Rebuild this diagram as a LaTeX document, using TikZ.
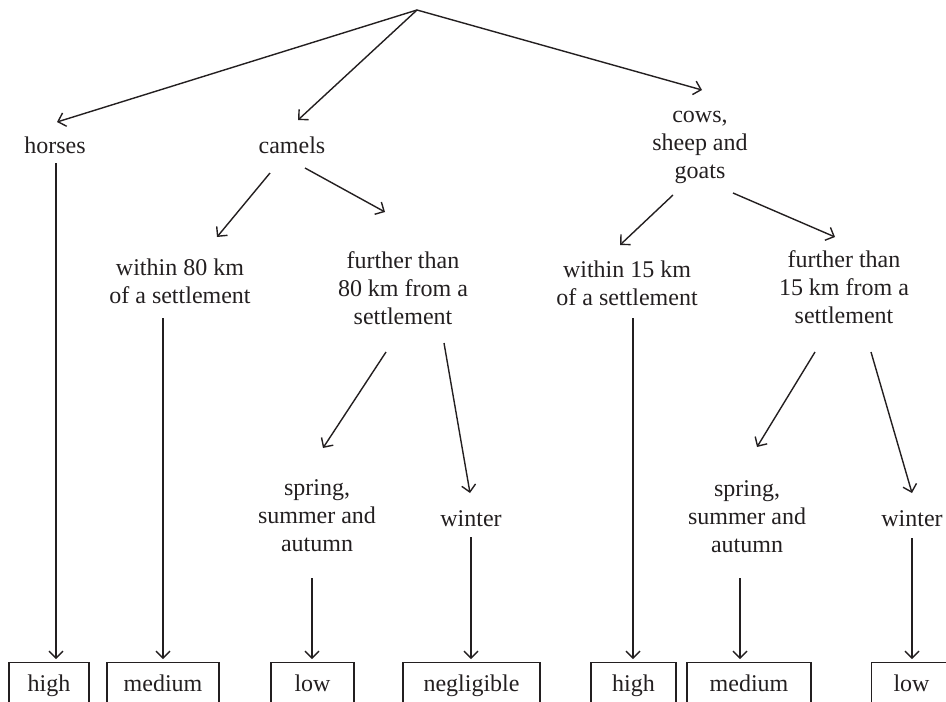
\documentclass[tikz,border=0pt]{standalone}
\usepackage{fontspec}
\setmainfont{Liberation Serif}
\usetikzlibrary{arrows.meta,calc}
\definecolor{ink}{RGB}{35,31,32}
\newcommand\mlines[1]{\vtop{\halign{\hfil##\hfil\cr#1\crcr}}}
\begin{document}
\begin{tikzpicture}[x=1pt,y=-1pt,
  lbl/.style={anchor=base,inner sep=0pt,text=ink,font=\fontsize{24}{28}\selectfont},
  valbox/.style={draw=ink,line width=1.1pt,anchor=north,inner sep=0pt,minimum height=46pt,
    text height=17pt,text depth=6pt,text=ink,font=\fontsize{24}{28}\selectfont},
  conn/.style={draw=ink,line width=1.4pt,-{Straight Barb[length=7pt,width=14pt,line width=1.4pt]}}]
\useasboundingbox (0,0) rectangle (946,702);
\clip (0,0) rectangle (946,702);
\coordinate (root) at (417,10);
\node[lbl] (horses) at (55,153) {horses};
\node[lbl] (camels) at (292,153) {camels};
\node[lbl] (cows) at (700,122) {\mlines{cows,\cr sheep and\cr goats}};
\node[lbl] (w80) at (180,275) {\mlines{within 80 km\cr of a settlement}};
\node[lbl] (f80) at (403,268) {\mlines{further than\cr 80 km from a\cr settlement}};
\node[lbl] (w15) at (627,277) {\mlines{within 15 km\cr of a settlement}};
\node[lbl] (f15) at (844,267) {\mlines{further than\cr 15 km from a\cr settlement}};
\node[lbl] (sp1) at (317,495) {\mlines{spring,\cr summer and\cr autumn}};
\node[lbl] (wi1) at (471,526) {winter};
\node[lbl] (sp2) at (747,496) {\mlines{spring,\cr summer and\cr autumn}};
\node[lbl] (wi2) at (912,526) {winter};
\node[valbox,minimum width=80pt] (h1) at (49,662) {high};
\node[valbox,minimum width=112pt] (m1) at (163,662) {medium};
\node[valbox,minimum width=83pt] (l1) at (312.5,662) {low};
\node[valbox,minimum width=137pt] (n1) at (471.5,662) {negligible};
\node[valbox,minimum width=85pt] (h2) at (633.5,662) {high};
\node[valbox,minimum width=124pt] (m2) at (749,662) {medium};
\node[valbox,anchor=north west,text width=130pt,align=left] (l2) at (871,662) {\hspace*{22pt}low};
\draw[conn] (root) -- ($(horses.base)+(2,-31)$);
\draw[conn] (root) -- ($(camels.base)+(6,-33)$);
\draw[conn] (root) -- ($(cows.base)+(2,-32)$);
\draw[conn] ($(horses.base)+(1,10)$) -- ($(h1.north)+(7,-3)$);
\draw[conn] ($(camels.base)+(-22,20)$) -- ($(w80.base)+(37,-38)$);
\draw[conn] ($(camels.base)+(13,15)$) -- ($(f80.base)+(-18,-56)$);
\draw[conn] ($(w80.base)+(-17,43)$) -- ($(m1.north)+(0,-3)$);
\draw[conn] ($(f80.base)+(-17,84)$) -- ($(sp1.base)+(6,-47)$);
\draw[conn] ($(f80.base)+(41,75)$) -- ($(wi1.base)+(-1,-33)$);
\draw[conn] ($(sp1.base)+(-5,83)$) -- ($(l1.north)+(-0.5,-3)$);
\draw[conn] ($(wi1.base)+(0,11)$) -- ($(n1.north)+(-0.5,-3)$);
\draw[conn] ($(cows.base)+(-27,73)$) -- ($(w15.base)+(-7,-32)$);
\draw[conn] ($(cows.base)+(33,71)$) -- ($(f15.base)+(-9,-30)$);
\draw[conn] ($(w15.base)+(6,41)$) -- ($(h2.north)+(-0.5,-3)$);
\draw[conn] ($(f15.base)+(-29,85)$) -- ($(sp2.base)+(10,-49)$);
\draw[conn] ($(f15.base)+(27,85)$) -- ($(wi2.base)+(0,-33)$);
\draw[conn] ($(sp2.base)+(-7,82)$) -- ($(m2.north)+(-9,-3)$);
\draw[conn] ($(wi2.base)+(0,12)$) -- ($(l2.north west)+(41,-3)$);
\end{tikzpicture}
\end{document}
